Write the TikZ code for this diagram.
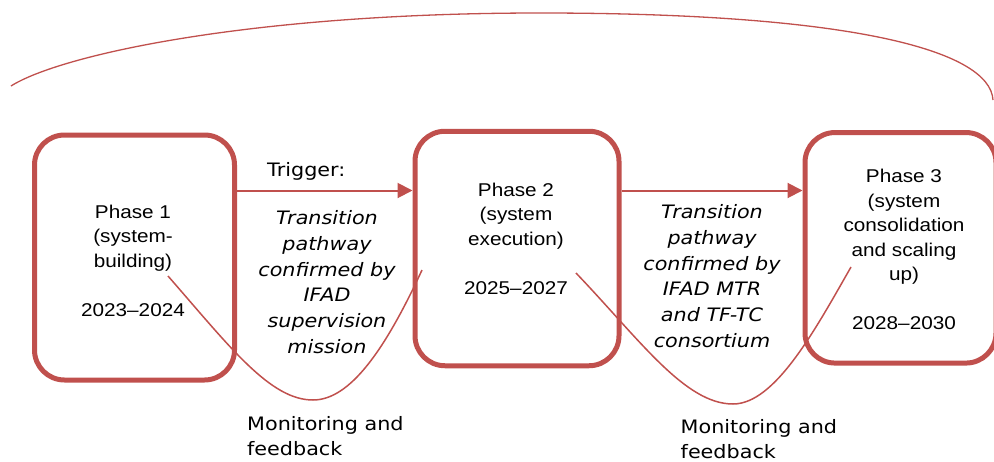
\documentclass[tikz,border=0pt]{standalone}
\usepackage{fontspec}
\setmainfont{Liberation Sans}[FakeStretch=1.12]
\newfontfamily\verd{DejaVu Sans}[FakeStretch=1.12]
\usetikzlibrary{arrows.meta}
\definecolor{acc}{HTML}{C0504D}
\tikzset{
  phasebox/.style={draw=acc, line width=5pt, rounded corners=30pt, inner sep=0pt},
  flow/.style={draw=acc, line width=2pt, -{Triangle[length=15pt,width=15pt]}},
  loopline/.style={draw=acc, line width=1.5pt},
  arcline/.style={draw=acc, line width=1.3pt},
  arialtxt/.style={inner sep=0pt, align=center, font=\fontsize{18.5}{24.5}\selectfont},
  verdtxt/.style={inner sep=0pt, font=\verd\fontsize{18.5}{25.8}\selectfont},
}
\begin{document}
\begin{tikzpicture}[x=1pt,y=-1pt]
\useasboundingbox (0,0) rectangle (994,461);
% top arc
\draw[arcline] (11,86) .. controls (60,55) and (250,13) .. (540,13)
  .. controls (850,13) and (990,50) .. (993,100);
% boxes
\node[phasebox, minimum width=200pt, minimum height=245pt] (box1) at (134.5,257.5) {};
\node[phasebox, minimum width=204pt, minimum height=234.5pt] (box2) at (517,248.5) {};
\node[phasebox, minimum width=191pt, minimum height=230.5pt] (box3) at (900.5,247.8) {};
% texts in boxes
\node[arialtxt] (p1) at (133,260.5) {Phase 1\\(system-\\building)\\[24.5pt]2023--2024};
\node[arialtxt] (p2) at (516,238.5) {Phase 2\\(system\\execution)\\[24.5pt]2025--2027};
\node[arialtxt] (p3) at (904,249.5) {Phase 3\\(system\\consolidation\\and scaling\\up)\\[24.5pt]2028--2030};
% arrows
\coordinate (a1) at ([yshift=67pt]box1.east);
\draw[flow] (a1) -- (a1 -| box2.west);
\coordinate (a2) at ([yshift=58pt]box2.east);
\draw[flow] (a2) -- (a2 -| box3.west);
% arrow labels
\node[verdtxt, anchor=base west] (trig) at (267,176) {Trigger:};
\node[verdtxt, align=center] (t1) at (327,282) {\itshape Transition\\\itshape pathway\\\itshape confirmed by\\\itshape IFAD\\\itshape supervision\\\itshape mission};
\node[verdtxt, align=center] (t2) at (712,276) {\itshape Transition\\\itshape pathway\\\itshape confirmed by\\\itshape IFAD MTR\\\itshape and TF-TC\\\itshape consortium};
% monitoring loops
\draw[loopline] (168,276) .. controls (230,347) and (270,400) .. (313,400)
  .. controls (350,400) and (385,350) .. (422,270);
\draw[loopline] (576,273) .. controls (640,340) and (685,404) .. (733,404)
  .. controls (775,404) and (815,330) .. (851,267);
\node[verdtxt, align=left, anchor=west] (m1) at (247,436) {Monitoring and\\feedback};
\node[verdtxt, align=left, anchor=west] (m2) at (680.5,439) {Monitoring and\\feedback};
\end{tikzpicture}
\end{document}
